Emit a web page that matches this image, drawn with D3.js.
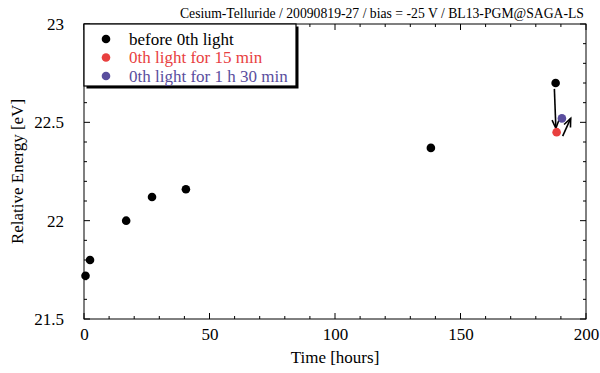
<!DOCTYPE html>
<html><head><meta charset="utf-8">
<script src="https://cdn.jsdelivr.net/npm/d3@7"></script>
<style>body{margin:0;background:#fff}svg{display:block}svg text{font-family:"Liberation Serif","Times New Roman",serif !important}</style>
</head><body><svg id="c" width="600" height="373"></svg>
<script>
const titleText = "Cesium-Telluride / 20090819-27 / bias = -25 V / BL13-PGM@SAGA-LS";
const xLabel = "Time [hours]";
const yLabel = "Relative Energy [eV]";
const seriesNames = ["before 0th light", "0th light for 15 min", "0th light for 1 h 30 min"];
const seriesColors = ["#000000", "#e8403f", "#5a4e9e"];
const beforeX = [0.6, 2.4, 16.8, 27.1, 40.6, 138.2, 187.9];
const beforeY = [21.72, 21.80, 22.00, 22.12, 22.16, 22.37, 22.70];
const light15X = [188.3];
const light15Y = [22.45];
const light90X = [190.4];
const light90Y = [22.52];
const xTicks = [0, 50, 100, 150, 200];
const yTicks = [21.5, 22, 22.5, 23];
// arrows: [x1, y1, x2, y2] in data units
const arrows = [[187.4, 22.67, 188.0, 22.47], [190.7, 22.43, 193.9, 22.52]];

const SERIF = '"Liberation Serif","Times New Roman",serif';
const svg = d3.select("#c");
const m = {l: 84, r: 586, t: 24, b: 319};
const x = d3.scaleLinear().domain([0, 200]).range([m.l, m.r]);
const y = d3.scaleLinear().domain([21.5, 23]).range([m.b, m.t]);

// frame
svg.append("rect").attr("x", m.l).attr("y", m.t).attr("width", m.r - m.l).attr("height", m.b - m.t)
  .attr("fill", "none").attr("stroke", "#000").attr("stroke-width", 1);

const tickG = svg.append("g").attr("stroke", "#000").attr("stroke-width", 1);
const xMinor = d3.range(0, 201, 10), yMinor = d3.range(0, 16).map(i => 21.5 + i * 0.1);
xMinor.forEach(v => {
  const len = v % 50 === 0 ? 6 : 3;
  tickG.append("line").attr("x1", x(v)).attr("x2", x(v)).attr("y1", m.b).attr("y2", m.b - len);
  tickG.append("line").attr("x1", x(v)).attr("x2", x(v)).attr("y1", m.t).attr("y2", m.t + len);
});
yMinor.forEach((v, i) => {
  const len = i % 5 === 0 ? 6 : 3;
  tickG.append("line").attr("y1", y(v)).attr("y2", y(v)).attr("x1", m.l).attr("x2", m.l + len);
  tickG.append("line").attr("y1", y(v)).attr("y2", y(v)).attr("x1", m.r).attr("x2", m.r - len);
});

// tick labels via axes (hide lines)
const xAxis = svg.append("g").attr("transform", `translate(0,${m.b})`)
  .call(d3.axisBottom(x).tickValues(xTicks).tickSize(0).tickPadding(9).tickFormat(d3.format("d")));
const yAxis = svg.append("g").attr("transform", `translate(${m.l},0)`)
  .call(d3.axisLeft(y).tickValues(yTicks).tickSize(0).tickPadding(20).tickFormat(d => String(d)));
[xAxis, yAxis].forEach(a => {
  a.attr("font-family", SERIF).attr("font-size", 17);
  a.select(".domain").remove();
  a.selectAll("text").style("font-family", SERIF).style("font-size", "17px").attr("fill", "#000");
});

// axis titles
svg.append("text").attr("x", (m.l + m.r) / 2).attr("y", 363).attr("text-anchor", "middle")
  .style("font-size", "17px").text(xLabel);
svg.append("text").attr("transform", `translate(23,${(m.t + m.b) / 2}) rotate(-90)`)
  .attr("text-anchor", "middle").style("font-size", "17px").text(yLabel);
svg.append("text").attr("x", 584).attr("y", 18).attr("text-anchor", "end")
  .style("font-size", "13.7px").text(titleText);

// arrows
const ah = svg.append("g").attr("stroke", "#000").attr("stroke-width", 1.6).attr("fill", "none");
arrows.forEach(a => {
  const x1 = x(a[0]), y1 = y(a[1]), x2 = x(a[2]), y2 = y(a[3]);
  ah.append("line").attr("x1", x1).attr("y1", y1).attr("x2", x2).attr("y2", y2);
  const ang = Math.atan2(y2 - y1, x2 - x1), L = 9, w = 0.4;
  ah.append("path").attr("d",
    `M${x2 - L * Math.cos(ang - w)},${y2 - L * Math.sin(ang - w)}L${x2},${y2}L${x2 - L * Math.cos(ang + w)},${y2 - L * Math.sin(ang + w)}`);
});

// points
const series = [[beforeX, beforeY], [light15X, light15Y], [light90X, light90Y]];
series.forEach((s, i) => {
  svg.append("g").selectAll("circle").data(s[0].map((v, j) => [v, s[1][j]])).join("circle")
    .attr("cx", d => x(d[0])).attr("cy", d => y(d[1])).attr("r", 4.3).attr("fill", seriesColors[i]);
});

// legend
const lg = svg.append("g");
lg.append("rect").attr("x", m.l + 2.5).attr("y", m.t + 2.5).attr("width", 212).attr("height", 62).attr("fill", "#000");
lg.append("rect").attr("x", m.l).attr("y", m.t).attr("width", 212).attr("height", 62)
  .attr("fill", "#fff").attr("stroke", "#000").attr("stroke-width", 1.2);
seriesNames.forEach((n, i) => {
  const yy = 39 + i * 18.5;
  lg.append("circle").attr("cx", 106).attr("cy", yy).attr("r", 4.3).attr("fill", seriesColors[i]);
  lg.append("text").attr("x", 129).attr("y", yy + 5.5).style("font-size", "17px").attr("fill", seriesColors[i]).text(n);
});
</script></body></html>
